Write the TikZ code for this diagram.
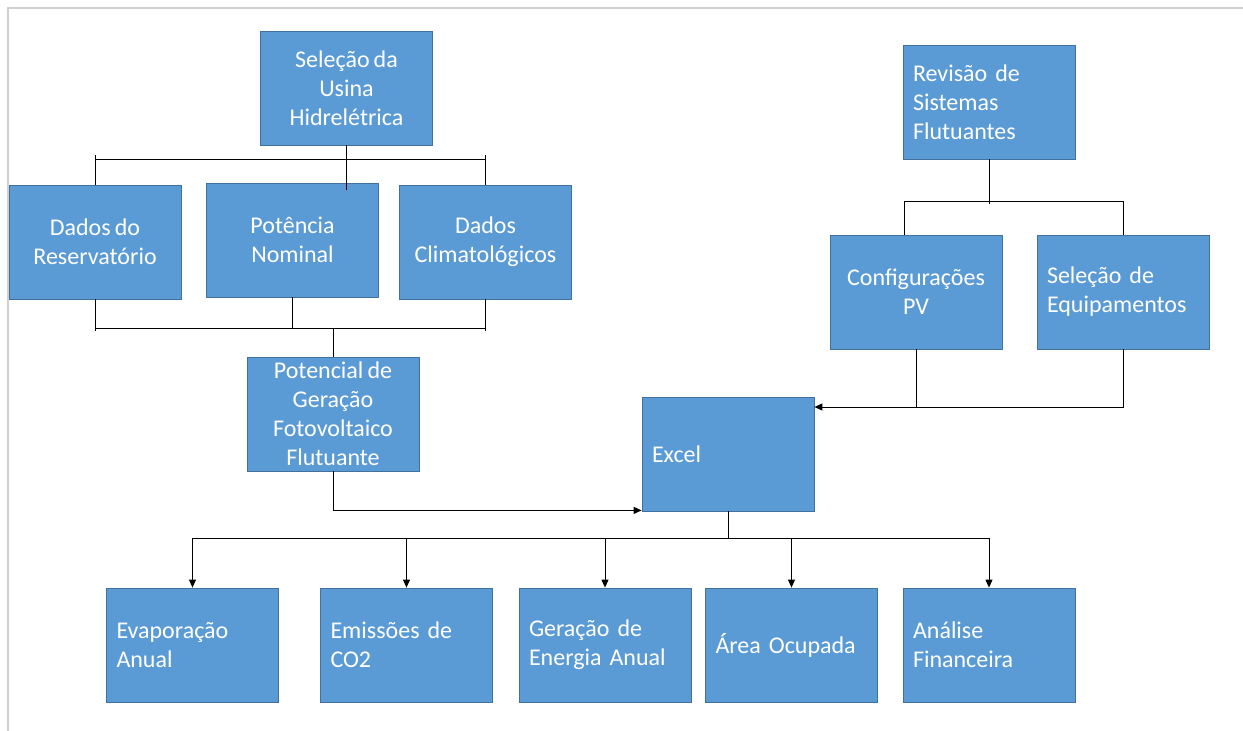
\documentclass[tikz,border=0pt]{standalone}
\usepackage{fontspec}
\setmainfont{Carlito}[WordSpace=0.75]
\usetikzlibrary{arrows.meta}
\definecolor{boxfill}{HTML}{5B9BD5}
\definecolor{boxline}{HTML}{41719C}
\definecolor{frameline}{HTML}{D0D0D0}
\begin{document}
\begin{tikzpicture}[x=1pt,y=-1pt,
  box/.style={draw=boxline, line width=0.8pt, fill=boxfill, text=white,
    minimum width=172pt, minimum height=114pt, inner sep=0pt,
    font=\fontsize{24}{29}\selectfont, align=center},
  lbox/.style={box, text width=152pt, inner xsep=10pt, align=left},
  conn/.style={draw=black, line width=0.9pt},
  arr/.style={conn, -{Triangle[length=8pt,width=7pt]}}]
\useasboundingbox (0,0) rectangle (1243,731);
\draw[frameline, line width=1.2pt] (8,731) -- (8,8) -- (1243,8);

% top-left tree
\node[box] (sel) at (346.5,88) {Seleção da\\Usina\\Hidrelétrica};
\node[box] (res) at (95,242) {Dados do\\Reservatório};
\node[box] (pot) at (292.5,240) {Potência\\Nominal};
\node[box] (cli) at (485.5,242) {Dados\\Climatológicos};
\node[box] (potf) at (333,414) {Potencial de\\Geração\\Fotovoltaico\\Flutuante};
\node[lbox] (excel) at (728,454) {Excel};

% right tree
\node[lbox] (rev) at (989,102) {Revisão de\\Sistemas\\Flutuantes};
\node[box] (cfg) at (916,292) {Configurações\\PV};
\node[lbox] (eq) at (1123,292) {Seleção de\\Equipamentos};

% outputs
\node[lbox] (evap) at (192.5,645) {Evaporação\\Anual};
\node[lbox] (emi) at (406.5,645) {Emissões de\\CO2};
\node[lbox] (ger) at (605,645) {Geração de\\Energia Anual};
\node[lbox] (area) at (791.5,645) {Área Ocupada};
\node[lbox] (ana) at (989,645) {Análise\\Financeira};

% bars
\coordinate (topbar) at (0,159);
\coordinate (botbar) at (0,328);
\coordinate (rbar) at (0,201);
\coordinate (inbar) at (0,407);
\coordinate (ebar) at (0,538);

\draw[conn] (sel.south) -- ([yshift=-7pt]sel.south |- pot.north);
\draw[conn] (res.north |- topbar) -- (cli.north |- topbar);
\draw[conn] (res.north) -- ++(0,-30);
\draw[conn] (cli.north) -- ++(0,-30);

\draw[conn] (res.south) -- ++(0,32);
\draw[conn] (cli.south) -- ++(0,32);
\draw[conn] (pot.south) -- (pot.south |- botbar);
\draw[conn] (res.south |- botbar) -- (cli.south |- botbar);
\draw[conn] (potf.north |- botbar) -- (potf.north);

\draw[arr] (potf.south) |- ([yshift=1pt]excel.south west);

\draw[conn] (rev.south) -- ++(0,45);
\draw[conn] ([xshift=-12pt]cfg.north) |- (rbar -| eq.north) -- (eq.north);

\draw[conn] (cfg.south) -- (cfg.south |- inbar);
\draw[arr] (eq.south) |- (excel.north east |- inbar);

\draw[conn] (excel.south) -- (excel.south |- ebar);
\draw[conn] (evap.north |- ebar) -- (ana.north |- ebar);
\foreach \n in {evap,emi,ger,area,ana}
  \draw[arr] (\n.north |- ebar) -- (\n.north);
\end{tikzpicture}
\end{document}
